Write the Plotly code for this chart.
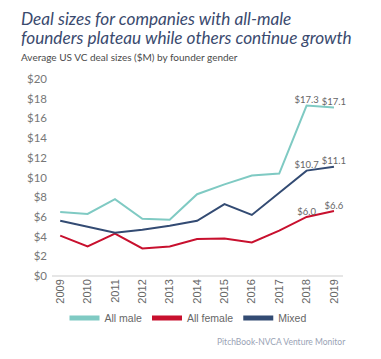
import plotly.graph_objects as go

years = [2009, 2010, 2011, 2012, 2013, 2014, 2015, 2016, 2017, 2018, 2019]
all_male = [6.5, 6.3, 7.8, 5.8, 5.7, 8.3, 9.3, 10.2, 10.4, 17.3, 17.1]
all_female = [4.1, 3.0, 4.3, 2.8, 3.0, 3.75, 3.8, 3.4, 4.6, 6.0, 6.6]
mixed = [5.6, 5.0, 4.4, 4.7, 5.1, 5.6, 7.3, 6.2, 8.5, 10.7, 11.1]
y_ticks = [0, 2, 4, 6, 8, 10, 12, 14, 16, 18, 20]
y_tick_labels = ["$" + str(v) for v in y_ticks]

series = [
    ("All male", all_male, "#7fcac3"),
    ("All female", all_female, "#c8102e"),
    ("Mixed", mixed, "#334b73"),
]

# page body has an 8px default margin; compensate
OFF = 8
W, H = 381, 359
ML, MT = 52 - OFF, 79 - OFF
MR = W - (343 - OFF)
MB = H - (276 - OFF)

fig = go.Figure()
for name, vals, color in series:
    labels = ["" if i < len(vals) - 2 else "$%.1f" % v for i, v in enumerate(vals)]
    fig.add_trace(go.Scatter(
        x=years, y=vals, name=name, mode="lines+text",
        line=dict(color=color, width=2),
        text=labels, textposition="top center",
        textfont=dict(family="Lato", size=9.5, color="#666666"),
        cliponaxis=False,
    ))

pw = W - ML - MR
ph = H - MT - MB


def px_to_paper(x, y):
    x -= OFF
    y -= OFF
    return (x - ML) / pw, 1 - (y - MT) / ph


texts = [
    ("<i>Deal sizes for companies with all-male</i>", 19, 19, "left", "middle", "Lato", 17.2, "#3a4a6e"),
    ("<i>founders plateau while others continue growth</i>", 19, 37, "left", "middle", "Lato", 17.2, "#3a4a6e"),
    ("Average US VC deal sizes ($M) by founder gender", 19, 57, "left", "middle", "Lato", 10, "#4a4a4a"),
    ("PitchBook-NVCA Venture Monitor", 348, 342, "right", "middle", "Lato", 8.5, "#9aa3b5"),
]
annotations = []
for t, x, y, xa, ya, fam, sz, col in texts:
    xp, yp = px_to_paper(x, y)
    annotations.append(dict(text=t, x=xp, y=yp, xref="paper", yref="paper",
                            xanchor=xa, yanchor=ya, showarrow=False, align="left",
                            font=dict(family=fam, size=sz, color=col)))

fig.update_layout(
    width=W, height=H,
    margin=dict(l=ML, r=MR, t=MT, b=MB, autoexpand=False),
    paper_bgcolor="white", plot_bgcolor="white",
    showlegend=True,
    legend=dict(orientation="h", x=(188 - OFF) / W, xanchor="center", xref="container",
                y=1 - (318 - OFF) / H, yanchor="middle", yref="container",
                font=dict(family="Liberation Sans", size=10.5, color="#666666"),
                tracegroupgap=0, itemsizing="constant"),
    xaxis=dict(range=[2008.7, 2019.33], tickvals=years, ticktext=[str(y) for y in years],
               tickangle=-90, showgrid=False, zeroline=False, showline=False, automargin=False,
               tickfont=dict(family="Liberation Sans", size=11, color="#666666")),
    yaxis=dict(range=[0, 20], tickvals=y_ticks, ticktext=y_tick_labels, automargin=False,
               showgrid=False, zeroline=True, zerolinecolor="#e6e6e6", zerolinewidth=1.5,
               tickfont=dict(family="Lato", size=11.5, color="#777777"), ticklabelstandoff=4),
    annotations=annotations,
)

fig.write_html("out.html")
